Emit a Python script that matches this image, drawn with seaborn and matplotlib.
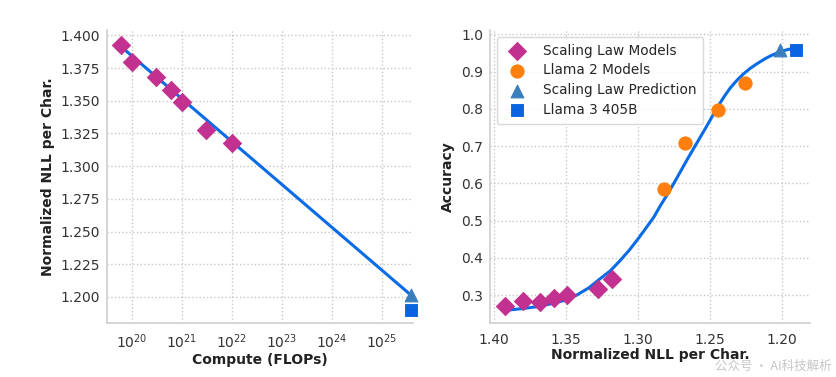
import numpy as np
import pandas as pd
import seaborn as sns
import matplotlib.pyplot as plt

# values
sl_flops = [6e19, 1e20, 3e20, 6e20, 1e21, 3e21, 1e22]
sl_nll = [1.3924, 1.380, 1.368, 1.358, 1.349, 1.328, 1.318]
sl_acc = [0.271, 0.283, 0.281, 0.292, 0.300, 0.317, 0.343]

pred_flops = [3.8e25]
pred_nll = [1.2014]
pred_acc = [0.959]
l3_flops = [3.8e25]
l3_nll = [1.1903]
l3_acc = [0.959]

l2_nll = [1.2822, 1.2676, 1.2444, 1.2259]
l2_acc = [0.586, 0.709, 0.796, 0.868]

fit_flops = [6e19, 3.8e25]
fit_nll = [1.3915, 1.2014]

# accuracy fit curve
curve_nll = [1.3924, 1.3800, 1.3700, 1.3588, 1.3500, 1.3426, 1.3340, 1.3263,
             1.3190, 1.3124, 1.3060, 1.3000, 1.2945, 1.2891, 1.2845, 1.2797,
             1.2750, 1.2705, 1.2660, 1.2612, 1.2565, 1.2518, 1.2470, 1.2430,
             1.2400, 1.2360, 1.2310, 1.2267, 1.2220, 1.2174, 1.2120, 1.2081,
             1.2040, 1.2000, 1.1950, 1.1903]
curve_acc = [0.259, 0.264, 0.269, 0.278, 0.287, 0.300, 0.320, 0.344,
             0.366, 0.393, 0.421, 0.451, 0.480, 0.509, 0.540, 0.570,
             0.601, 0.632, 0.663, 0.695, 0.726, 0.757, 0.790, 0.816,
             0.834, 0.856, 0.878, 0.894, 0.909, 0.921, 0.934, 0.942,
             0.949, 0.955, 0.960, 0.964]

C_DIA = "#c2318f"
C_ORG = "#ff7f0e"
C_TRI = "#3a7ebd"
C_SQ = "#0a64e2"
C_LINE = "#0a6be6"

sns.set_theme(style="whitegrid", rc={"grid.linestyle": ":", "grid.color": "#c8c8c8",
                                     "axes.edgecolor": "#d0d0d0"})
plt.rcParams["font.family"] = ["DejaVu Sans", "Noto Sans CJK SC"]

fig = plt.figure(figsize=(8.36, 3.77), dpi=100)
ax1 = fig.add_axes([0.128, 0.143, 0.366, 0.777])
ax2 = fig.add_axes([0.586, 0.143, 0.383, 0.777])

# left: NLL vs compute
sns.lineplot(x=fit_flops, y=fit_nll, ax=ax1, color=C_LINE, lw=2.2, zorder=2)
sns.scatterplot(x=sl_flops, y=sl_nll, ax=ax1, marker="D", s=85, color=C_DIA,
                edgecolor=C_DIA, zorder=3)
sns.scatterplot(x=pred_flops, y=pred_nll, ax=ax1, marker="^", s=85, color=C_TRI,
                edgecolor=C_TRI, zorder=3, clip_on=False)
sns.scatterplot(x=l3_flops, y=l3_nll, ax=ax1, marker="s", s=65, color=C_SQ,
                edgecolor=C_SQ, zorder=3, clip_on=False)
ax1.set_xscale("log")
ax1.set_xlim(10**19.5, 10**25.62)
ax1.set_ylim(1.180, 1.404)
ax1.set_xticks([1e20, 1e21, 1e22, 1e23, 1e24, 1e25])
ax1.minorticks_off()
ax1.set_yticks([1.200, 1.225, 1.250, 1.275, 1.300, 1.325, 1.350, 1.375, 1.400])
ax1.set_yticklabels([f"{v:.3f}" for v in ax1.get_yticks()])
ax1.set_xlabel("Compute (FLOPs)", fontweight="bold", fontsize=10, labelpad=1)
ax1.set_ylabel("Normalized NLL per Char.", fontweight="bold", fontsize=10)

# right: accuracy vs NLL
sns.lineplot(x=curve_nll, y=curve_acc, ax=ax2, color=C_LINE, lw=2.2, sort=False,
             zorder=2, solid_joinstyle="round", solid_capstyle="round")
sns.scatterplot(x=sl_nll, y=sl_acc, ax=ax2, marker="D", s=85, color=C_DIA,
                edgecolor=C_DIA, zorder=3, label="Scaling Law Models")
sns.scatterplot(x=l2_nll, y=l2_acc, ax=ax2, marker="o", s=90, color=C_ORG,
                edgecolor=C_ORG, zorder=3, label="Llama 2 Models")
sns.scatterplot(x=pred_nll, y=pred_acc, ax=ax2, marker="^", s=85, color=C_TRI,
                edgecolor=C_TRI, zorder=3, label="Scaling Law Prediction")
sns.scatterplot(x=l3_nll, y=l3_acc, ax=ax2, marker="s", s=65, color=C_SQ,
                edgecolor=C_SQ, zorder=3, label="Llama 3 405B")
ax2.set_xlim(1.4028, 1.1806)
ax2.set_ylim(0.225, 1.011)
ax2.set_xticks([1.40, 1.35, 1.30, 1.25, 1.20])
ax2.set_xticklabels(["1.40", "1.35", "1.30", "1.25", "1.20"])
ax2.set_yticks([0.3, 0.4, 0.5, 0.6, 0.7, 0.8, 0.9, 1.0])
ax2.set_xlabel("Normalized NLL per Char.", fontweight="bold", fontsize=10, labelpad=1)
ax2.set_ylabel("Accuracy", fontweight="bold", fontsize=10)
ax2.legend(loc="upper left", fontsize=9.8, frameon=True, edgecolor="#d0d0d0",
           handletextpad=0.9, borderpad=0.5, labelspacing=0.42, fancybox=True,
           bbox_to_anchor=(0.0, 1.0), borderaxespad=0.5)

for ax in (ax1, ax2):
    sns.despine(ax=ax)
    ax.tick_params(labelsize=10, colors="#333333", length=0, pad=5)
    ax.tick_params(axis="x", pad=7)
    ax.xaxis.label.set_color("#222222")
    ax.yaxis.label.set_color("#222222")

# faint watermark, kept clear of the tick labels
fig.text(0.995, 0.012, "公众号 · AI科技解析", fontsize=9, color="#b8b8b8", alpha=0.8,
         ha="right", va="bottom", family=["Noto Sans CJK SC", "DejaVu Sans"])

fig.savefig("out.png", dpi=100)
